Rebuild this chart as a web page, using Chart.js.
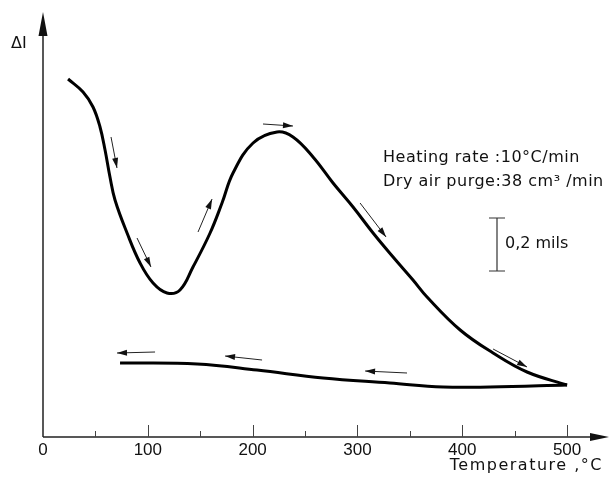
<!DOCTYPE html>
<html lang="en">
<head>
<meta charset="UTF-8" />
<title>Dilatometer curve</title>
<script src="https://cdn.jsdelivr.net/npm/chart.js"></script>
<style>
  html, body { margin: 0; padding: 0; background: #fff; }
</style>
</head>
<body>
<canvas id="dilChart" width="609" height="483"></canvas>
<script>
// heating run (temperature °C, ΔI arbitrary units)
const heatTemp = [23.9, 38.2, 47.7, 54.4, 59.2, 63.9, 68.7, 80.2, 92.6, 105, 118.3, 130.7, 143.1, 159.4, 170.8, 181.3, 200.4, 223.3, 238.5, 257.6, 276.7, 295.8, 314.9, 334, 353, 366.4, 398, 429.4, 461.8, 500];
const heatDL   = [358, 345, 330, 310, 287, 260, 237, 204, 174, 154, 144, 147, 170, 204, 234, 264, 294, 305, 300, 280, 254, 230, 204, 180, 157, 140, 107, 84, 65, 52];
// cooling run (listed from low to high temperature)
const coolTemp = [73.5, 147, 204.2, 267.2, 331, 381.7, 426.5, 500];
const coolDL   = [74, 73, 67, 59, 54, 50, 50, 52];

const xTickLabels = [0, 100, 200, 300, 400, 500];
const xMinorTicks = [50, 150, 250, 350, 450];

// small direction arrows: [tailTemp, tailDL, headTemp, headDL]
const dirArrows = [
  [64.9, 300, 70.6, 269],
  [89.7, 199, 103, 170],
  [147.9, 205, 161.3, 238],
  [209.9, 313, 238.5, 311],
  [302.5, 234, 327.3, 200],
  [429.4, 88, 461.8, 70],
  [347.3, 64, 307.3, 66],
  [209, 77, 173.7, 81],
  [106.9, 85, 70.6, 84]
];

function toPoints(xs, ys) {
  return xs.map((x, i) => ({ x: x, y: ys[i] }));
}

function arrowHead(ctx, x1, y1, x2, y2, len, half) {
  const a = Math.atan2(y2 - y1, x2 - x1);
  ctx.beginPath();
  ctx.moveTo(x2, y2);
  ctx.lineTo(x2 - len * Math.cos(a) + half * Math.sin(a), y2 - len * Math.sin(a) - half * Math.cos(a));
  ctx.lineTo(x2 - len * Math.cos(a) - half * Math.sin(a), y2 - len * Math.sin(a) + half * Math.cos(a));
  ctx.closePath();
  ctx.fill();
}

const decorations = {
  id: "decorations",
  afterDraw(chart) {
    const ctx = chart.ctx;
    const xs = chart.scales.x, ys = chart.scales.y;
    const area = chart.chartArea;
    const x0 = xs.getPixelForValue(0);
    const y0 = ys.getPixelForValue(0);
    ctx.save();
    ctx.strokeStyle = "#222";
    ctx.fillStyle = "#111";

    // axes
    ctx.lineWidth = 1.5;
    ctx.beginPath();
    ctx.moveTo(x0, y0);
    ctx.lineTo(x0, area.top + 20);
    ctx.moveTo(x0, y0);
    ctx.lineTo(area.right - 16, y0);
    ctx.stroke();
    arrowHead(ctx, x0, y0, x0, area.top, 24, 4.5);
    arrowHead(ctx, x0, y0, area.right, y0, 19, 4);

    // ticks (pointing up)
    ctx.lineWidth = 1;
    ctx.strokeStyle = "#444";
    ctx.beginPath();
    xTickLabels.forEach(v => {
      if (v === 0) return;
      const px = Math.round(xs.getPixelForValue(v)) + 0.5;
      ctx.moveTo(px, y0);
      ctx.lineTo(px, y0 - 12);
    });
    xMinorTicks.forEach(v => {
      const px = Math.round(xs.getPixelForValue(v)) + 0.5;
      ctx.moveTo(px, y0);
      ctx.lineTo(px, y0 - 6);
    });
    ctx.stroke();

    // tick labels
    ctx.fillStyle = "#111";
    ctx.font = "17px 'Liberation Sans Narrow', 'Liberation Sans'";
    ctx.textAlign = "center";
    ctx.textBaseline = "middle";
    xTickLabels.forEach(v => {
      ctx.fillText(String(v), xs.getPixelForValue(v), y0 + 13);
    });

    // axis titles
    ctx.font = "16px 'DejaVu Sans'";
    ctx.letterSpacing = "1.5px";
    ctx.textAlign = "right";
    ctx.fillText("Temperature ,°C", 603, 466);
    ctx.letterSpacing = "0px";
    ctx.textAlign = "left";
    ctx.fillText("ΔI", 11, 44);

    // run conditions
    ctx.font = "16px 'DejaVu Sans'";
    ctx.letterSpacing = "0.5px";
    ctx.fillText("Heating rate :10°C/min", 383, 158);
    ctx.fillText("Dry air purge:38 cm³ /min", 383, 182);

    // scale bar
    ctx.lineWidth = 1.2;
    ctx.strokeStyle = "#333";
    ctx.beginPath();
    ctx.moveTo(497, 218); ctx.lineTo(497, 271);
    ctx.moveTo(489, 218); ctx.lineTo(505, 218);
    ctx.moveTo(489, 271); ctx.lineTo(505, 271);
    ctx.stroke();
    ctx.letterSpacing = "0px";
    ctx.fillText("0,2 mils", 505, 244);

    // direction arrows
    ctx.lineWidth = 1;
    ctx.strokeStyle = "#222";
    dirArrows.forEach(a => {
      const tx = xs.getPixelForValue(a[0]), ty = ys.getPixelForValue(a[1]);
      const hx = xs.getPixelForValue(a[2]), hy = ys.getPixelForValue(a[3]);
      ctx.beginPath();
      ctx.moveTo(tx, ty);
      ctx.lineTo(hx, hy);
      ctx.stroke();
      arrowHead(ctx, tx, ty, hx, hy, 10, 3);
    });
    ctx.restore();
  }
};

new Chart(document.getElementById("dilChart"), {
  type: "line",
  data: {
    datasets: [
      {
        label: "Heating",
        data: toPoints(heatTemp, heatDL),
        borderColor: "#000",
        borderWidth: 3,
        pointRadius: 0,
        tension: 0.4,
        fill: false
      },
      {
        label: "Cooling",
        data: toPoints(coolTemp, coolDL),
        borderColor: "#000",
        borderWidth: 3,
        pointRadius: 0,
        tension: 0.4,
        fill: false
      }
    ]
  },
  options: {
    responsive: false,
    animation: false,
    devicePixelRatio: 1,
    layout: { padding: { left: 43, top: 12, right: 0, bottom: 46 } },
    plugins: { legend: { display: false }, tooltip: { enabled: false } },
    scales: {
      x: { type: "linear", min: 0, max: 540, display: false },
      y: { type: "linear", min: 0, max: 425, display: false }
    }
  },
  plugins: [decorations]
});
</script>
</body>
</html>
